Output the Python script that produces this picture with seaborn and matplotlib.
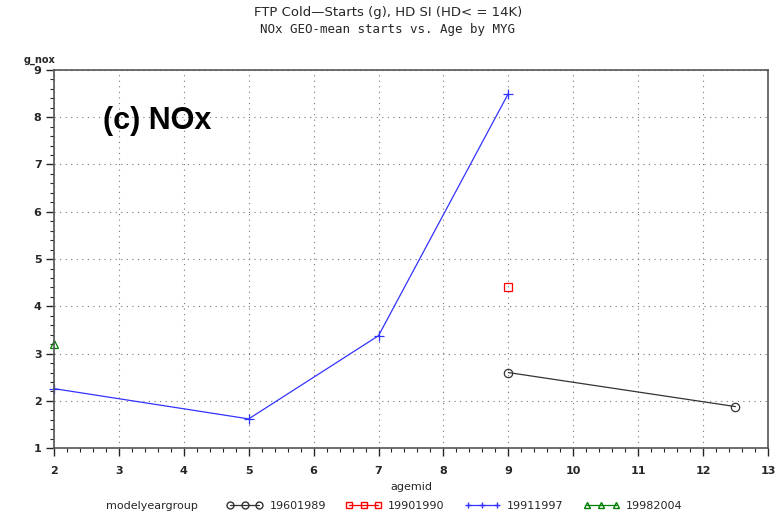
import numpy as np
import pandas as pd
import matplotlib.pyplot as plt
import seaborn as sns
from matplotlib.ticker import MultipleLocator

sns.set_style("white")
plt.rcParams["font.family"] = ["DejaVu Sans"]

# data
groups = ["19601989", "19901990", "19911997", "19982004"]
age_1960 = [9, 12.5]
nox_1960 = [2.6, 1.88]
age_1990 = [9]
nox_1990 = [4.4]
age_1991 = [2, 5, 7, 9]
nox_1991 = [2.26, 1.62, 3.38, 8.5]
age_1998 = [2]
nox_1998 = [3.2]

colors = {"19601989": "#333333", "19901990": "red", "19911997": "#3333ff", "19982004": "green"}
markers = {"19601989": "o", "19901990": "s", "19911997": "+", "19982004": "^"}

df = pd.concat([
    pd.DataFrame({"agemid": age_1960, "g_nox": nox_1960, "modelyeargroup": groups[0]}),
    pd.DataFrame({"agemid": age_1990, "g_nox": nox_1990, "modelyeargroup": groups[1]}),
    pd.DataFrame({"agemid": age_1991, "g_nox": nox_1991, "modelyeargroup": groups[2]}),
    pd.DataFrame({"agemid": age_1998, "g_nox": nox_1998, "modelyeargroup": groups[3]}),
], ignore_index=True)

fig = plt.figure(figsize=(7.76, 5.14), dpi=100)
ax = fig.add_axes([0.0696, 0.128, 0.920, 0.736])

handles = []
for g in groups:
    sub = df[df["modelyeargroup"] == g]
    plus = markers[g] == "+"
    sns.lineplot(data=sub, x="agemid", y="g_nox", ax=ax, color=colors[g], lw=0.9,
                 marker=markers[g], markersize=7 if plus else 6,
                 markerfacecolor=colors[g] if plus else "none",
                 markeredgecolor=colors[g], markeredgewidth=0.9, legend=False,
                 clip_on=False)
    h, = ax.plot([], [], color=colors[g], lw=0.9, marker=markers[g],
                 markersize=5, markerfacecolor="none", markeredgecolor=colors[g])
    handles.append(h)

ax.set_xlim(2, 13)
ax.set_ylim(1, 9)
ax.xaxis.set_major_locator(MultipleLocator(1))
ax.xaxis.set_minor_locator(MultipleLocator(0.2))
ax.yaxis.set_major_locator(MultipleLocator(1))
ax.yaxis.set_minor_locator(MultipleLocator(0.2))
ax.grid(True, which="major", color="#777777", ls=(0, (1, 4)), lw=0.8)
ax.tick_params(which="major", length=6, width=1, direction="out", labelsize=8,
               bottom=True, left=True, pad=7)
ax.tick_params(which="minor", length=3, width=0.8, direction="out", bottom=True, left=True)
for lab in ax.get_xticklabels() + ax.get_yticklabels():
    lab.set_fontweight("bold")
ax.tick_params(axis="y", pad=3)
for sp in ax.spines.values():
    sp.set_color("#555555")
    sp.set_linewidth(1.2)

ax.set_xlabel("")
ax.set_ylabel("")
fig.text(0.5 * (0.0696 + 0.9896), 0.053, "agemid", fontsize=8, ha="center", va="center")
fig.text(0.030, 0.873, "g_nox", fontsize=7, fontweight="bold", ha="left", va="bottom")

ax.text(0.068, 0.865, "(c) NOx", transform=ax.transAxes, fontsize=22,
        fontweight="bold", ha="left", va="center", family="Liberation Sans",
        color="black")

fig.text(0.5, 0.975, "FTP Cold\u2014Starts (g), HD SI (HD< = 14K)", fontsize=9.5,
         ha="center", va="center")
fig.text(0.5, 0.943, "NOx GEO-mean starts vs. Age by MYG", fontsize=9,
         ha="center", va="center", family="DejaVu Sans Mono")

fig.text(0.137, 0.016, "modelyeargroup", fontsize=8, ha="left", va="center")
fig.legend(handles, groups, loc="center left", bbox_to_anchor=(0.287, 0.016),
           ncol=4, frameon=False, fontsize=8, handlelength=3.2, columnspacing=1.8,
           borderaxespad=0, handletextpad=0.6, numpoints=3)

fig.savefig("out.png", dpi=100)
